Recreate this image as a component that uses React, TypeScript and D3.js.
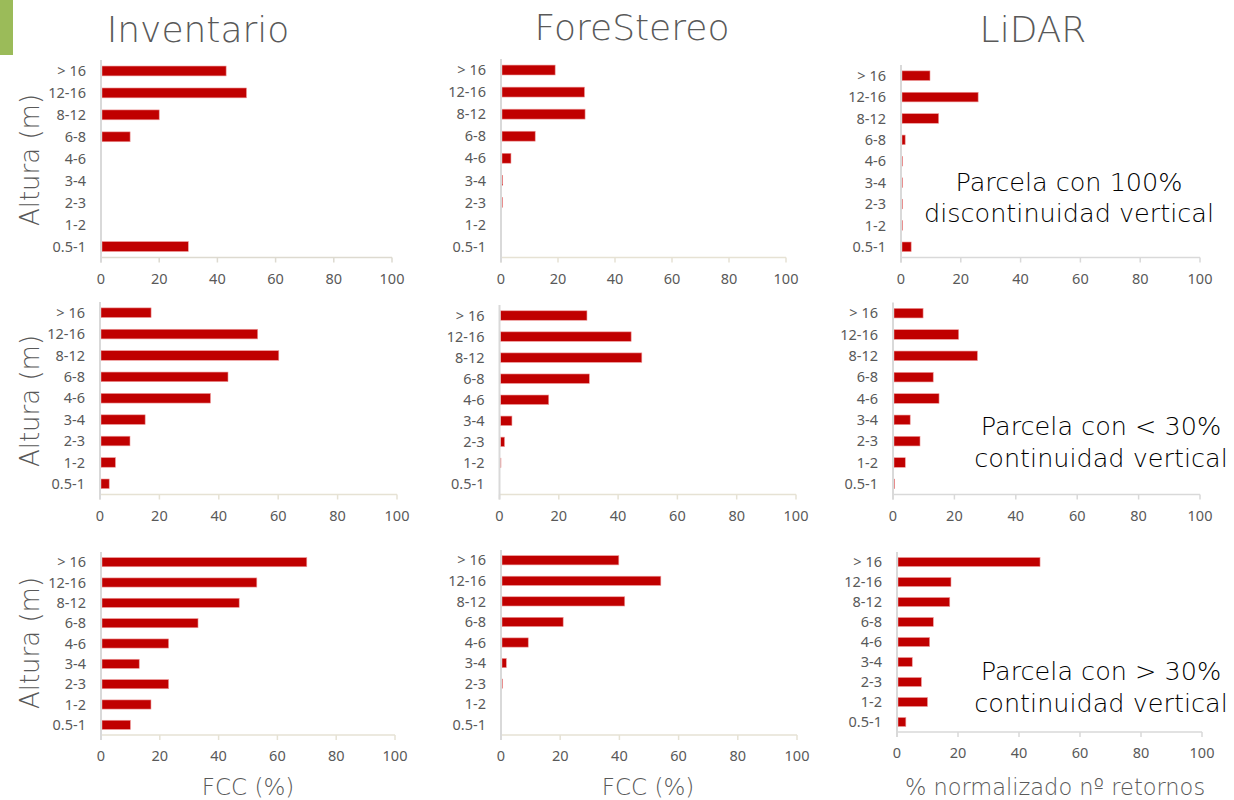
import React from "react";
import * as d3 from "d3";

// Height classes, listed from the ground up
const categories = ["0.5-1", "1-2", "2-3", "3-4", "4-6", "6-8", "8-12", "12-16", "> 16"];
const xTicks = [0, 20, 40, 60, 80, 100];

// Row 1: plot with 100% vertical discontinuity
const inventario1 = [30, 0, 0, 0, 0, 10, 20, 50, 43];
const forestereo1 = [0, 0, 0.3, 0.6, 3.5, 12, 29.5, 29.3, 19];
const lidar1 = [3.4, 0.3, 0.3, 0.3, 0.3, 1.4, 12.6, 25.8, 9.7];

// Row 2: plot with < 30% vertical continuity
const inventario2 = [3.1, 5.2, 10.1, 15.2, 37.2, 43.1, 60.2, 53.1, 17.2];
const forestereo2 = [0, 0.3, 1.7, 4.2, 16.6, 30.3, 48, 44.4, 29.5];
const lidar2 = [0.5, 4, 8.8, 5.6, 15, 13.1, 27.5, 21.4, 9.8];

// Row 3: plot with > 30% vertical continuity
const inventario3 = [10, 17, 23, 13, 23, 33, 47, 53, 70];
const forestereo3 = [0, 0, 0.5, 1.8, 9.2, 21, 41.8, 54, 39.8];
const lidar3 = [2.9, 10, 8, 5, 10.7, 11.9, 17.3, 17.7, 46.9];

const columnTitles = ["Inventario", "ForeStereo", "LiDAR"];
const rowNotes = [
  ["Parcela con 100%", "discontinuidad vertical"],
  ["Parcela con < 30%", "continuidad vertical"],
  ["Parcela con > 30%", "continuidad vertical"],
];
const yAxisTitle = "Altura (m)";
const xAxisTitles = ["FCC (%)", "FCC (%)", "% normalizado nº retornos"];

const BAR = "#C00000";
const BAR_EDGE = "#EE9A9A";
const TEXT_GRAY = "#595959";
const LABEL_FONT = "'Noto Sans', 'Open Sans', sans-serif";
const TITLE_FONT = "'DejaVu Sans', 'Noto Sans', sans-serif";

type PanelSpec = {
  values: number[];
  x0: number;
  x1: number;
  top: number;
  bottom: number;
  baseColor: string;
};

const panels: PanelSpec[] = [
  { values: inventario1, x0: 101, x1: 392, top: 60, bottom: 257.5, baseColor: "#DDDAD0" },
  { values: forestereo1, x0: 501, x1: 786, top: 59, bottom: 257.5, baseColor: "#E6E2D4" },
  { values: lidar1, x0: 901, x1: 1200, top: 65, bottom: 257.5, baseColor: "#D9D9D9" },
  { values: inventario2, x0: 100, x1: 397, top: 302, bottom: 494.5, baseColor: "#E6E2D4" },
  { values: forestereo2, x0: 499.5, x1: 796, top: 305, bottom: 494.5, baseColor: "#E6E2D4" },
  { values: lidar2, x0: 893, x1: 1200, top: 302.5, bottom: 494.5, baseColor: "#D9D9D9" },
  { values: inventario3, x0: 101, x1: 395, top: 552, bottom: 735, baseColor: "#E6E2D4" },
  { values: forestereo3, x0: 501, x1: 797, top: 550, bottom: 735, baseColor: "#E6E2D4" },
  { values: lidar3, x0: 897, x1: 1202, top: 552, bottom: 732, baseColor: "#D9D9D9" },
];

function Panel({ spec }: { spec: PanelSpec }) {
  const x = d3.scaleLinear().domain([0, 100]).range([spec.x0, spec.x1]);
  const y = d3
    .scaleBand<string>()
    .domain([...categories].reverse())
    .range([spec.top, spec.bottom])
    .paddingInner(0.55)
    .paddingOuter(0.275);
  const bw = y.bandwidth();
  return (
    <g>
      {/* category labels */}
      {categories.map((c) => (
        <text
          key={c}
          x={spec.x0 - 15}
          y={(y(c) ?? 0) + bw / 2}
          dy="0.36em"
          textAnchor="end"
          fontFamily={LABEL_FONT}
          fontSize={14.5}
          fill={TEXT_GRAY}
        >
          {c}
        </text>
      ))}
      {/* bars */}
      {categories.map((c, i) =>
        spec.values[i] > 0 ? (
          <rect
            key={c}
            x={x(0) + 1}
            y={y(c)}
            width={Math.max(x(spec.values[i]) - x(0) - 1, 0.5)}
            height={bw}
            fill={BAR}
            stroke={BAR_EDGE}
            strokeWidth={0.6}
          />
        ) : null
      )}
      {/* x axis */}
      <line x1={x(0)} x2={x(100)} y1={spec.bottom} y2={spec.bottom} stroke={spec.baseColor} strokeWidth={1.5} />
      {xTicks.map((t) => (
        <g key={t}>
          <line x1={x(t)} x2={x(t)} y1={spec.bottom} y2={spec.bottom + 5} stroke={spec.baseColor} strokeWidth={1.5} />
          <text
            x={x(t)}
            y={spec.bottom + 26}
            textAnchor="middle"
            fontFamily={LABEL_FONT}
            fontSize={14.5}
            fill={TEXT_GRAY}
          >
            {t}
          </text>
        </g>
      ))}
      {/* y axis */}
      <line x1={x(0)} x2={x(0)} y1={spec.top} y2={spec.bottom + 5} stroke="#D9D9D9" strokeWidth={2} />
    </g>
  );
}

export default function App() {
  const titleX = [198, 632, 1033];
  const titleY = [42, 40, 42];
  const rowCenters = [160, 401, 643];
  const noteX = [1069, 1101, 1101];
  const noteY = [
    [191, 222],
    [435, 467],
    [680, 712],
  ];
  const xTitleX = [248, 648, 1055];
  return (
    <svg
      width={1234}
      height={800}
      style={{ position: "absolute", left: 0, top: 0, background: "#fff" }}
    >
      <rect x={0} y={0} width={13} height={55} fill="#9BBB59" />
      {columnTitles.map((t, i) => (
        <text
          key={t}
          x={titleX[i]}
          y={titleY[i]}
          textAnchor="middle"
          fontFamily={TITLE_FONT}
          fontWeight={200}
          fontSize={36}
          fill={TEXT_GRAY}
        >
          {t}
        </text>
      ))}
      {rowCenters.map((cy, i) => (
        <text
          key={i}
          transform={`translate(39,${cy}) rotate(-90)`}
          textAnchor="middle"
          fontFamily={TITLE_FONT}
          fontWeight={200}
          fontSize={26}
          fill={TEXT_GRAY}
        >
          {yAxisTitle}
        </text>
      ))}
      {panels.map((p, i) => (
        <Panel key={i} spec={p} />
      ))}
      {rowNotes.map((lines, i) => (
        <g key={i}>
          {lines.map((l, j) => (
            <text
              key={j}
              x={noteX[i]}
              y={noteY[i][j]}
              textAnchor="middle"
              fontFamily={TITLE_FONT}
              fontWeight={200}
              fontSize={25.5}
              fill="#000"
            >
              {l}
            </text>
          ))}
        </g>
      ))}
      {xAxisTitles.map((t, i) => (
        <text
          key={i}
          x={xTitleX[i]}
          y={795}
          textAnchor="middle"
          fontFamily={TITLE_FONT}
          fontWeight={200}
          fontSize={i === 2 ? 22.5 : 23}
          fill={TEXT_GRAY}
        >
          {t}
        </text>
      ))}
    </svg>
  );
}
